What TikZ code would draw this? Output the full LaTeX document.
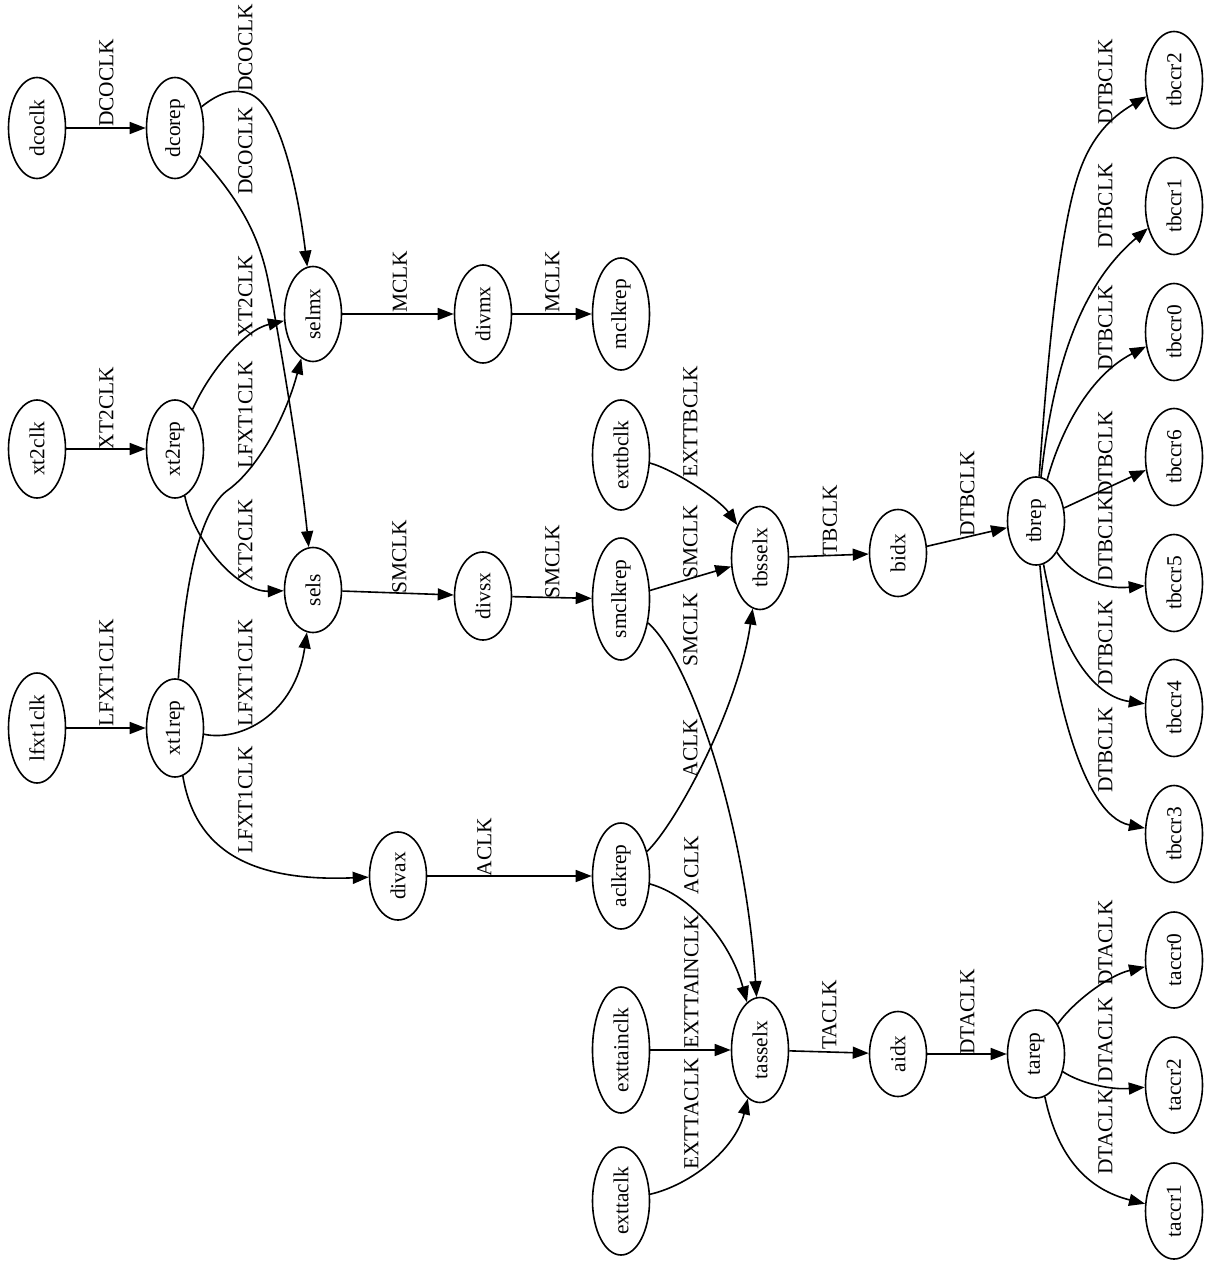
\documentclass[tikz,border=0pt]{standalone}
\usepackage{fontspec}
\setmainfont{Liberation Serif}
\usepackage{graphicx}
\usetikzlibrary{shapes.geometric,arrows.meta}
\begin{document}
\begin{tikzpicture}[x=0.5pt,y=-0.5pt,
  every node/.style={font=\fontsize{10.7}{12}\selectfont},
  nd/.style={ellipse,draw,line width=0.8pt,inner sep=0pt,minimum width=28.5pt,minimum height=#1},
  lbl/.style={inner sep=0pt,rotate=90},
  edge/.style={line width=0.8pt,-{Triangle[length=8pt,width=6pt]}}]
\useasboundingbox (0,0) rectangle (1211,1263);
% nodes
\node[nd=50.5pt] (dcoclk) at (37,128) {\rotatebox{90}{dcoclk}};
\node[nd=50.5pt] (dcorep) at (175,128) {\rotatebox{90}{dcorep}};
\node[nd=49pt] (xt2clk) at (37,449) {\rotatebox{90}{xt2clk}};
\node[nd=49pt] (xt2rep) at (175,449) {\rotatebox{90}{xt2rep}};
\node[nd=55pt] (lfxt1clk) at (37,728) {\rotatebox{90}{lfxt1clk}};
\node[nd=49pt] (xt1rep) at (175,728) {\rotatebox{90}{xt1rep}};
\node[nd=47.5pt] (selmx) at (313,314) {\rotatebox{90}{selmx}};
\node[nd=42.5pt] (sels) at (313,590) {\rotatebox{90}{sels}};
\node[nd=44pt] (divax) at (398,876) {\rotatebox{90}{divax}};
\node[nd=49pt] (divmx) at (483,314) {\rotatebox{90}{divmx}};
\node[nd=44pt] (divsx) at (483,596) {\rotatebox{90}{divsx}};
\node[nd=56pt] (mclkrep) at (621,314) {\rotatebox{90}{mclkrep}};
\node[nd=55pt] (exttbclk) at (621,455) {\rotatebox{90}{exttbclk}};
\node[nd=61pt] (smclkrep) at (621,599) {\rotatebox{90}{smclkrep}};
\node[nd=53pt] (aclkrep) at (621,876) {\rotatebox{90}{aclkrep}};
\node[nd=63pt] (exttainclk) at (621,1050) {\rotatebox{90}{exttainclk}};
\node[nd=54pt] (exttaclk) at (621,1201) {\rotatebox{90}{exttaclk}};
\node[nd=51.5pt] (tbsselx) at (760,558) {\rotatebox{90}{tbsselx}};
\node[nd=52.5pt] (tasselx) at (760,1050) {\rotatebox{90}{tasselx}};
\node[nd=43.5pt] (bidx) at (898,553) {\rotatebox{90}{bidx}};
\node[nd=42.5pt] (aidx) at (898,1054) {\rotatebox{90}{aidx}};
\node[nd=44pt] (tbrep) at (1036,521) {\rotatebox{90}{tbrep}};
\node[nd=44pt] (tarep) at (1036,1054) {\rotatebox{90}{tarep}};
\node[nd=48.5pt] (tbccr2) at (1174,80) {\rotatebox{90}{tbccr2}};
\node[nd=48.5pt] (tbccr1) at (1174,206) {\rotatebox{90}{tbccr1}};
\node[nd=48.5pt] (tbccr0) at (1174,332) {\rotatebox{90}{tbccr0}};
\node[nd=48.5pt] (tbccr6) at (1174,457) {\rotatebox{90}{tbccr6}};
\node[nd=48.5pt] (tbccr5) at (1174,583) {\rotatebox{90}{tbccr5}};
\node[nd=48.5pt] (tbccr4) at (1174,708) {\rotatebox{90}{tbccr4}};
\node[nd=48.5pt] (tbccr3) at (1174,834) {\rotatebox{90}{tbccr3}};
\node[nd=48pt] (taccr0) at (1174,960) {\rotatebox{90}{taccr0}};
\node[nd=48pt] (taccr2) at (1174,1085) {\rotatebox{90}{taccr2}};
\node[nd=48pt] (taccr1) at (1174,1211) {\rotatebox{90}{taccr1}};
% edges
\draw[edge] (dcoclk) -- (dcorep);
\draw[edge] (dcorep) .. controls (220,92) and (235,88) .. (250,94) .. controls (280,106) and (298,190) .. (selmx);
\draw[edge] (dcorep) .. controls (235,195) and (258,230) .. (268,280) .. controls (278,330) and (300,460) .. (sels);
\draw[edge] (xt2clk) -- (xt2rep);
\draw[edge] (xt2rep) .. controls (210,370) and (245,330) .. (selmx);
\draw[edge] (xt2rep) .. controls (195,545) and (240,592) .. (sels);
\draw[edge] (lfxt1clk) -- (xt1rep);
\draw[edge] (xt1rep) .. controls (185,580) and (200,510) .. (228,490) .. controls (256,470) and (285,420) .. (selmx);
\draw[edge] (xt1rep) .. controls (240,742) and (295,715) .. (sels);
\draw[edge] (xt1rep) .. controls (195,850) and (250,882) .. (divax);
\draw[edge] (selmx) -- (divmx);
\draw[edge] (divmx) -- (mclkrep);
\draw[edge] (sels) -- (divsx);
\draw[edge] (divsx) -- (smclkrep);
\draw[edge] (smclkrep) -- (tbsselx);
\draw[edge] (smclkrep) .. controls (690,660) and (745,820) .. (tasselx);
\draw[edge] (exttbclk) .. controls (675,470) and (720,500) .. (tbsselx);
\draw[edge] (divax) -- (aclkrep);
\draw[edge] (aclkrep) .. controls (675,825) and (738,710) .. (tbsselx);
\draw[edge] (aclkrep) .. controls (690,895) and (730,940) .. (tasselx);
\draw[edge] (exttainclk) -- (tasselx);
\draw[edge] (exttaclk) .. controls (690,1185) and (735,1150) .. (tasselx);
\draw[edge] (tbsselx) -- (bidx);
\draw[edge] (bidx) -- (tbrep);
\draw[edge] (tasselx) -- (aidx);
\draw[edge] (aidx) -- (tarep);
\draw[edge] (tarep) .. controls (1075,1000) and (1110,975) .. (taccr0);
\draw[edge] (tarep) .. controls (1080,1083) and (1110,1090) .. (taccr2);
\draw[edge] (tarep) .. controls (1058,1160) and (1090,1190) .. (taccr1);
\draw[edge] (tbrep) .. controls (1046,380) and (1058,230) .. (1080,170) .. controls (1092,137) and (1110,118) .. (tbccr2);
\draw[edge] (tbrep) .. controls (1052,380) and (1075,290) .. (tbccr1);
\draw[edge] (tbrep) .. controls (1058,440) and (1085,378) .. (tbccr0);
\draw[edge] (tbrep) -- (tbccr6);
\draw[edge] (tbrep) .. controls (1072,575) and (1100,590) .. (tbccr5);
\draw[edge] (tbrep) .. controls (1055,630) and (1085,695) .. (tbccr4);
\draw[edge] (tbrep) .. controls (1050,680) and (1080,815) .. (tbccr3);
% labels
\node[lbl] (l1) at (106.5,83) {DCOCLK};
\node[lbl] (l2) at (245.5,48) {DCOCLK};
\node[lbl] (l3) at (245.5,151) {DCOCLK};
\node[lbl] (l4) at (106.5,408) {XT2CLK};
\node[lbl] (l5) at (245.5,296) {XT2CLK};
\node[lbl] (l6) at (245.5,540) {XT2CLK};
\node[lbl] (l7) at (106.5,673) {LFXT1CLK};
\node[lbl] (l8) at (245.5,415) {LFXT1CLK};
\node[lbl] (l9) at (245.5,673) {LFXT1CLK};
\node[lbl] (l10) at (245.5,800) {LFXT1CLK};
\node[lbl] (l11) at (400,282) {MCLK};
\node[lbl] (l12) at (552.5,282) {MCLK};
\node[lbl] (l13) at (399.5,557) {SMCLK};
\node[lbl] (l14) at (552.5,562) {SMCLK};
\node[lbl] (l15) at (690.5,542) {SMCLK};
\node[lbl] (l16) at (690.5,630) {SMCLK};
\node[lbl] (l17) at (690.5,422) {EXTTBCLK};
\node[lbl] (l18) at (484.5,847) {ACLK};
\node[lbl] (l19) at (690.5,748) {ACLK};
\node[lbl] (l20) at (691.5,865) {ACLK};
\node[lbl] (l21) at (691.5,982) {EXTTAINCLK};
\node[lbl] (l22) at (691.5,1114) {EXTTACLK};
\node[lbl] (l23) at (830,520) {TBCLK};
\node[lbl] (l24) at (967.5,494) {DTBCLK};
\node[lbl] (l25) at (829.5,1015) {TACLK};
\node[lbl] (l26) at (967.5,1012) {DTACLK};
\node[lbl] (l27) at (1105.5,943) {DTACLK};
\node[lbl] (l28) at (1105.5,1040) {DTACLK};
\node[lbl] (l29) at (1105.5,1132) {DTACLK};
\node[lbl] (l30) at (1105.5,82) {DTBCLK};
\node[lbl] (l31) at (1105.5,206) {DTBCLK};
\node[lbl] (l32) at (1105.5,328) {DTBCLK};
\node[lbl] (l33) at (1105.5,454) {DTBCLK};
\node[lbl] (l34) at (1105.5,539) {DTBCLK};
\node[lbl] (l35) at (1105.5,643) {DTBCLK};
\node[lbl] (l36) at (1105.5,750) {DTBCLK};
\end{tikzpicture}
\end{document}
